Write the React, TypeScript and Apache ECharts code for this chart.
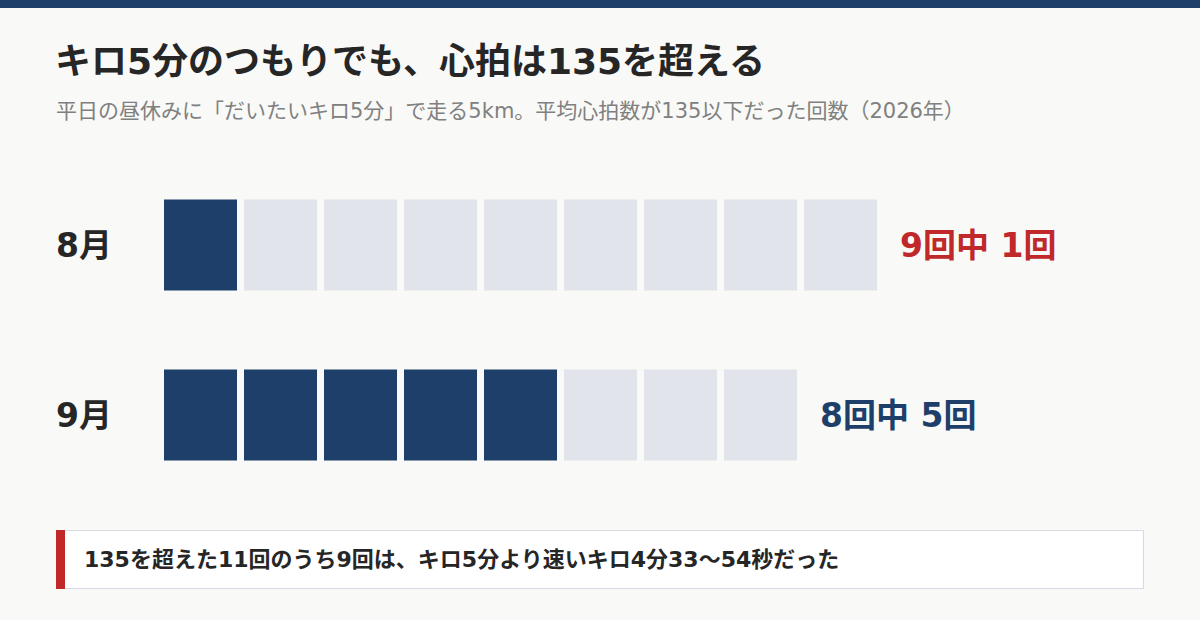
import * as echarts from 'echarts';
import { useEffect, useRef } from 'react';

const months = ['8月', '9月'];
const totals = [9, 8];
const under135 = [1, 5];
const countColors = ['#c0282a', '#1f3f6b'];

const titleText = 'キロ5分のつもりでも、心拍は135を超える';
const subtitleText = '平日の昼休みに「だいたいキロ5分」で走る5km。平均心拍数が135以下だった回数（2026年）';
const noteText = '135を超えた11回のうち9回は、キロ5分より速いキロ4分33〜54秒だった';

const FONT = '"DejaVu Sans", "Noto Sans CJK JP", sans-serif';
const NAVY = '#1f3f6b';
const EMPTY = '#e1e4ea';

const App = () => {
    const chartRef = useRef<HTMLDivElement>(null);

    useEffect(() => {
        if (!chartRef.current) return;
        const chart = echarts.init(chartRef.current, undefined, { renderer: 'svg' });

        // one data item per run: [slot, month index, filled?]
        const cells: number[][] = [];
        months.forEach((_, m) => {
            for (let i = 0; i < totals[m]; i++) cells.push([i, m, i < under135[m] ? 1 : 0]);
        });
        const labels = months.map((_, m) => [totals[m], m]);

        chart.setOption({
            animation: false,
            backgroundColor: '#f9f9f7',
            textStyle: { fontFamily: FONT },
            title: [
                {
                    text: titleText,
                    left: 50,
                    top: 38,
                    textStyle: { fontSize: 36, fontWeight: 'bold', color: '#262626', fontFamily: FONT },
                },
                {
                    text: subtitleText,
                    left: 51,
                    top: 95,
                    textStyle: { fontSize: 21, fontWeight: 'normal', color: '#808080', fontFamily: FONT },
                },
            ],
            grid: { left: 164, top: 160, width: 960, height: 340 },
            xAxis: { type: 'value', min: 0, max: 12, show: false },
            yAxis: {
                type: 'category',
                data: months,
                inverse: true,
                axisLine: { show: false },
                axisTick: { show: false },
                splitLine: { show: false },
                axisLabel: {
                    align: 'left',
                    margin: 108,
                    fontSize: 33,
                    fontWeight: 'bold',
                    color: '#262626',
                    fontFamily: FONT,
                },
            },
            series: [
                {
                    type: 'custom',
                    data: cells,
                    renderItem: (params: any, api: any) => {
                        const start = api.coord([api.value(0), api.value(1)]);
                        const w = api.size([1, 0])[0] - 7;
                        const h = 91;
                        return {
                            type: 'rect',
                            shape: { x: start[0], y: start[1] - h / 2, width: w, height: h },
                            style: { fill: api.value(2) ? NAVY : EMPTY },
                        };
                    },
                },
                {
                    type: 'custom',
                    data: labels,
                    renderItem: (params: any, api: any) => {
                        const m = api.value(1);
                        const p = api.coord([api.value(0), m]);
                        return {
                            type: 'text',
                            x: p[0] + 16,
                            y: p[1],
                            style: {
                                text: `${totals[m]}回中 ${under135[m]}回`,
                                fill: countColors[m],
                                fontSize: 33,
                                fontWeight: 'bold',
                                fontFamily: FONT,
                                verticalAlign: 'middle',
                                align: 'left',
                            },
                        };
                    },
                },
            ],
            graphic: [
                { type: 'rect', shape: { x: 0, y: 0, width: 1200, height: 8 }, style: { fill: NAVY } },
                {
                    type: 'rect',
                    shape: { x: 56.5, y: 530.5, width: 1087, height: 58 },
                    style: { fill: '#ffffff', stroke: '#d9d9e6', lineWidth: 1 },
                },
                { type: 'rect', shape: { x: 56, y: 530, width: 9, height: 59 }, style: { fill: '#c0282a' } },
                {
                    type: 'text',
                    x: 84,
                    y: 559,
                    style: {
                        text: noteText,
                        fill: '#262626',
                        fontSize: 22,
                        fontWeight: 'bold',
                        fontFamily: FONT,
                        verticalAlign: 'middle',
                    },
                },
            ],
        });

        const onResize = () => chart.resize();
        window.addEventListener('resize', onResize);
        return () => {
            window.removeEventListener('resize', onResize);
            chart.dispose();
        };
    }, []);

    return (
        <div
            ref={chartRef}
            style={{ position: 'fixed', left: 0, top: 0, width: 1200, height: 620 }}
        />
    );
};

export default App;
